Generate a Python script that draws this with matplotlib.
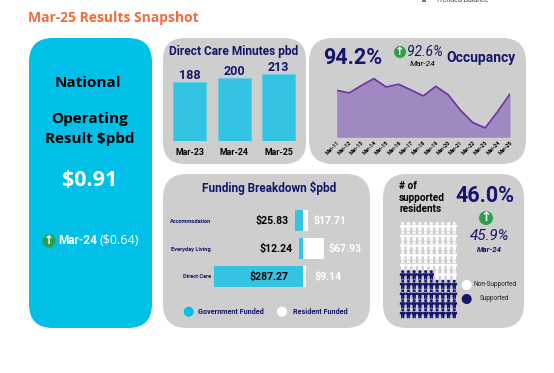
import matplotlib
matplotlib.use("Agg")
import matplotlib.pyplot as plt
from matplotlib.patches import FancyBboxPatch, Circle
from matplotlib.path import Path
import numpy as np

# ---- data ----
care_months = ["Mar-23", "Mar-24", "Mar-25"]
care_minutes = [188, 200, 213]
occ_months = ["Mar-11", "Mar-12", "Mar-13", "Mar-14", "Mar-15", "Mar-16", "Mar-17", "Mar-18",
              "Mar-19", "Mar-20", "Mar-21", "Mar-22", "Mar-23", "Mar-24", "Mar-25"]
occ_values = [94.53, 94.29, 94.96, 95.59, 94.83, 95.08, 94.56, 94.02,
              94.89, 94.14, 92.72, 91.6, 91.12, 92.6, 94.2]
fund_cats = ["Accommodation", "Everyday Living", "Direct Care"]
fund_gov = [25.83, 12.24, 287.27]
fund_res = [17.71, 67.93, 9.14]
supported_count = 46
total_people = 100

W, H = 554, 373
CYAN = "#00C0E8"; BAR = "#33C3E3"; GREY = "#CECECE"; NAVY = "#14156B"
ORANGE = "#F26B3A"; PURPLE = "#A088C0"; LINE = "#6A30A8"; GREEN = "#2E9E48"
DIN = "Roboto"; SEG = "Open Sans"

fig = plt.figure(figsize=(W / 100, H / 100), dpi=100, facecolor="white")


def px_axes(x0, y0, x1, y1, **kw):
    return fig.add_axes([x0 / W, 1 - y1 / H, (x1 - x0) / W, (y1 - y0) / H], **kw)


bg = px_axes(0, 0, W, H)
bg.set_xlim(0, W); bg.set_ylim(H, 0); bg.axis("off")


def panel(x0, y0, x1, y1, color, r=22):
    bg.add_patch(FancyBboxPatch((x0 + r, y0 + r), x1 - x0 - 2 * r, y1 - y0 - 2 * r,
                                boxstyle=f"round,pad={r},rounding_size={r}", fc=color, ec="none"))


def up_arrow(x, y, r, color=GREEN):
    bg.add_patch(Circle((x, y), r, fc=color, ec="none"))
    bg.text(x, y - 0.3, "\u2191", color="white", fontsize=r * 1.35, ha="center", va="center",
            family="DejaVu Sans", fontweight="bold")


def t(x, y, s, size, color="black", ha="center", weight="bold", style="normal", fam=DIN, **kw):
    bg.text(x, y, s, fontsize=size, color=color, ha=ha, va="center", fontweight=weight,
            fontstyle=style, family=fam, **kw)


panel(29, 38, 152, 328, CYAN, 24)
panel(163, 38, 306, 164, GREY)
panel(309, 38, 526, 164, GREY, 24)
panel(163, 174, 370, 328, GREY, 24)
panel(383, 174, 524, 328, GREY, 24)

# header
t(28, 18, "Mar-25 Results Snapshot", 10, ORANGE, ha="left", fam=SEG)
t(462, 0, "Trended Balance", 5, "#444444", weight="normal")
bg.add_patch(plt.Rectangle((422, -1), 4, 3, fc="#777777", ec="none"))

# left card
t(88, 83, "National", 11, fam=SEG)
t(90, 119, "Operating", 11, fam=SEG)
t(90, 139, "Result $pbd", 11, fam=SEG)
t(90, 180, "$0.91", 15.5, "white", fam=SEG)
up_arrow(49, 241, 6.5)
t(58, 241, "Mar-24", 8.5, "white", ha="left")
t(99, 241, "($0.64)", 9, "white", ha="left", weight="normal", fam=SEG)

# direct care minutes
t(234, 51, "Direct Care Minutes pbd", 8.6, NAVY)
ax = px_axes(165, 74 - 8, 299, 141, facecolor="none")
x = np.arange(len(care_months))
ax.bar(x, care_minutes, width=0.745, color=BAR, edgecolor="#55CBE5", linewidth=0.5)
ax.set_xlim(-0.555, 2.455)
ax.set_ylim(0, 213 * 75 / 67)
for xi, v in zip(x, care_minutes):
    ax.text(xi, v, str(v), ha="center", va="bottom", fontsize=9, color=NAVY, fontweight="bold", family=DIN)
ax.set_xticks(x, care_months, fontsize=6.3, fontweight="bold", family=DIN)
ax.tick_params(axis="x", length=0, pad=5)
ax.set_yticks([])
for s in ax.spines.values():
    s.set_visible(False)

# occupancy
t(353, 58, "94.2%", 15.5, NAVY, fam=DIN)
up_arrow(400, 52, 6)
t(407, 52, "92.6%", 10, NAVY, ha="left", weight="normal", style="italic")
t(423, 64, "Mar-24", 6, "black", weight="normal", style="italic")
t(446, 58, "Occupancy", 10, NAVY, ha="left")
ax = px_axes(336.7, 72, 510, 137.3, facecolor="none")
ox = np.arange(len(occ_months))
ax.fill_between(ox, occ_values, 90.27, color=PURPLE, linewidth=0)
ax.plot(ox, occ_values, color=LINE, linewidth=1.2)
ax.set_xlim(0, 14)
ax.set_ylim(90.27, 90.27 + 65.3 * 3 / 33.1)
ax.set_xticks(ox, occ_months, fontsize=3.8, fontweight="bold", family=DIN, rotation=45,
              ha="right", rotation_mode="anchor")
ax.tick_params(axis="x", length=0, pad=2)
ax.set_yticks([])
for s in ax.spines.values():
    s.set_visible(False)

# funding
t(269, 188, "Funding Breakdown $pbd", 8.5, NAVY)
scale = 0.3075
ax = px_axes(211, 203, 368, 294, facecolor="none")
ax.set_xlim(-(302.7 - 211) / scale, (368 - 302.7) / scale)
ax.set_ylim(294, 203)
ypos = [220.5, 248.5, 276.5]
ax.barh(ypos, [-g for g in fund_gov], height=21, color=BAR)
ax.barh(ypos, fund_res, height=21, color="white")
for y, g, r in zip(ypos, fund_gov, fund_res):
    gx = -g if g < 100 else 0
    off = -6 if g < 100 else -14
    ax.annotate(f"${g:,.2f}", (gx, y), xytext=(off * 0.72, 0), textcoords="offset points", ha="right",
                va="center", fontsize=7.6, fontweight="bold", family=DIN, color="black")
    off = 5.3 if r > 10 else 9
    ax.annotate(f"${r:,.2f}", (r, y), xytext=(off * 0.72, 0), textcoords="offset points", ha="left",
                va="center", fontsize=7.6, fontweight="bold", family=DIN, color="white")
ax.set_yticks(ypos, fund_cats, fontsize=4.1, fontweight="bold", family=DIN, color=NAVY)
ax.tick_params(axis="y", length=0, pad=0)
ax.set_xticks([])
for s in ax.spines.values():
    s.set_visible(False)
bg.add_patch(Circle((188.7, 311.7), 5, fc=CYAN, ec="none"))
t(198, 311.7, "Government Funded", 5.2, NAVY, ha="left")
bg.add_patch(Circle((282, 311.7), 5, fc="white", ec="none"))
t(293, 311.7, "Resident Funded", 5.2, NAVY, ha="left")

# supported residents
t(399, 186, "# of", 7.2, ha="left")
t(399, 198, "supported", 7.2, ha="left")
t(399, 209, "residents", 7.2, ha="left")
t(485, 196, "46.0%", 15.5, NAVY)
up_arrow(486, 218, 7)
t(490, 236, "45.9%", 11, NAVY, weight="normal", style="italic")
t(489, 249, "Mar-24", 5.6, NAVY, style="italic")
bg.add_patch(Circle((466.7, 285), 5, fc="white", ec="none"))
bg.add_patch(Circle((466.7, 299), 5, fc=NAVY, ec="none"))
t(495, 285, "Non-Supported", 4.7, "#222222", weight="normal")
t(495, 299, "Supported", 4.7, "#222222", weight="normal")

# person marker
head = Path.circle((0, 0.68), 0.32)
body = Path([(-0.55, 0.36), (0.55, 0.36), (0.66, -0.15), (0.38, -0.15), (0.34, -1), (0.05, -1),
             (0.0, -0.4), (-0.05, -1), (-0.34, -1), (-0.38, -0.15), (-0.66, -0.15), (-0.55, 0.36)],
            closed=True)
person = Path.make_compound_path(head, body)
ax = px_axes(397, 219, 460, 321, facecolor="none")
ax.set_xlim(397, 460); ax.set_ylim(321, 219); ax.axis("off")
cols = np.arange(10)
rows = np.arange(10)
xs, ys, colors = [], [], []
count = 0
for r in rows:  # bottom row first
    for c in cols:
        xs.append(c)
        ys.append(r)
        colors.append(NAVY if count < supported_count else "white")
        count += 1
xs = 402.7 + np.array(xs) * 5.73
ys = 313.5 - np.array(ys) * 9.65
ax.scatter(xs, ys, s=46, marker=person, c=colors, linewidths=0)

fig.savefig("out.png", dpi=100, facecolor="white")
